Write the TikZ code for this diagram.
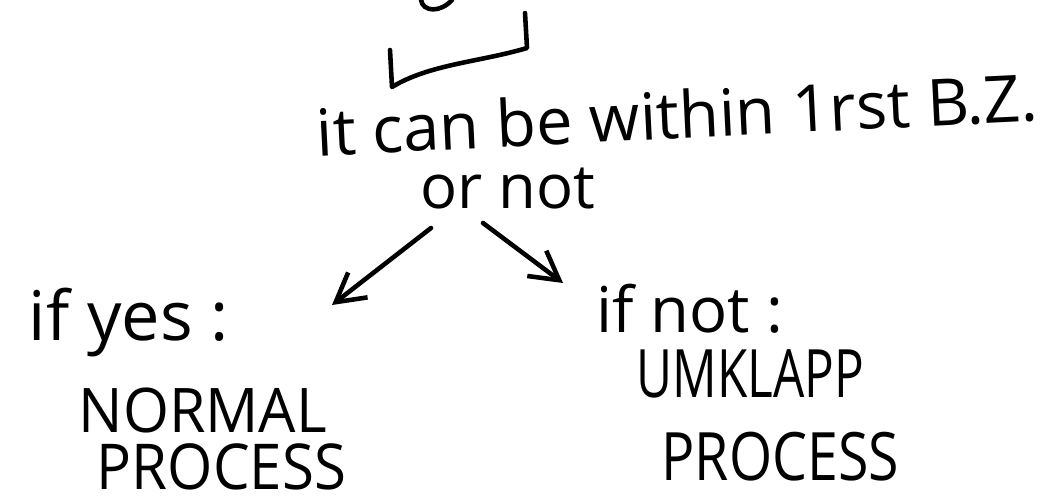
\documentclass[tikz,border=0pt]{standalone}
\usepackage{fontspec}
\setmainfont{Open Sans}
\usetikzlibrary{arrows.meta}
\newcommand{\hand}[1]{\fontsize{#1}{#1}\selectfont}
\begin{document}
\begin{tikzpicture}
    [x=0.02cm, y=-0.02cm,
    txt/.style={anchor=base, inner sep=0pt, transform shape},
    stroke/.style={line width=2.6pt, line cap=round, line join=round},
    arr/.style={stroke, -{Straight Barb[length=16pt, width=18pt]}}]
    \useasboundingbox (0,0) rectangle (1064,501);
    % \draw[help lines, step=50] (0,0) grid (1064,501);
    \draw[stroke] (421,0) .. controls (423,12) and (440,13) .. (452,0);
    \draw[stroke] (390,50) -- (392,87) .. controls (430,64) and (480,62) .. (527,48) -- (525,13);
    \node[txt, rotate=2.8] (bz) at (670,139) {\hand{37} it can be within 1rst B.Z.};
    \node[txt] (ornot) at (500,208) {\hand{35} or not};
    %
    \node[txt] (yes) at (120,340) {\hand{39} if yes :};
    \node[txt, xscale=0.96] (normal) at (195,432) {\hand{35} NORMAL};
    \node[txt, xscale=0.92] (proc1) at (214,489) {\hand{36} PROCESS};
    %
    \node[txt] (ifnot) at (682,332) {\hand{36} if not :};
    \node[txt, xscale=0.74] (umklapp) at (744,397) {\hand{38} UMKLAPP};
    \node[txt, xscale=0.83] (proc2) at (773,480) {\hand{38} PROCESS};
    %
    \coordinate (l0) at (431,228);
    \coordinate (l1) at (332,305);
    \coordinate (r0) at (483,223);
    \coordinate (r1) at (563,283);
    \draw[arr] (l0) -- (l1);
    \draw[arr] (r0) -- (r1);
\end{tikzpicture}
\end{document}
